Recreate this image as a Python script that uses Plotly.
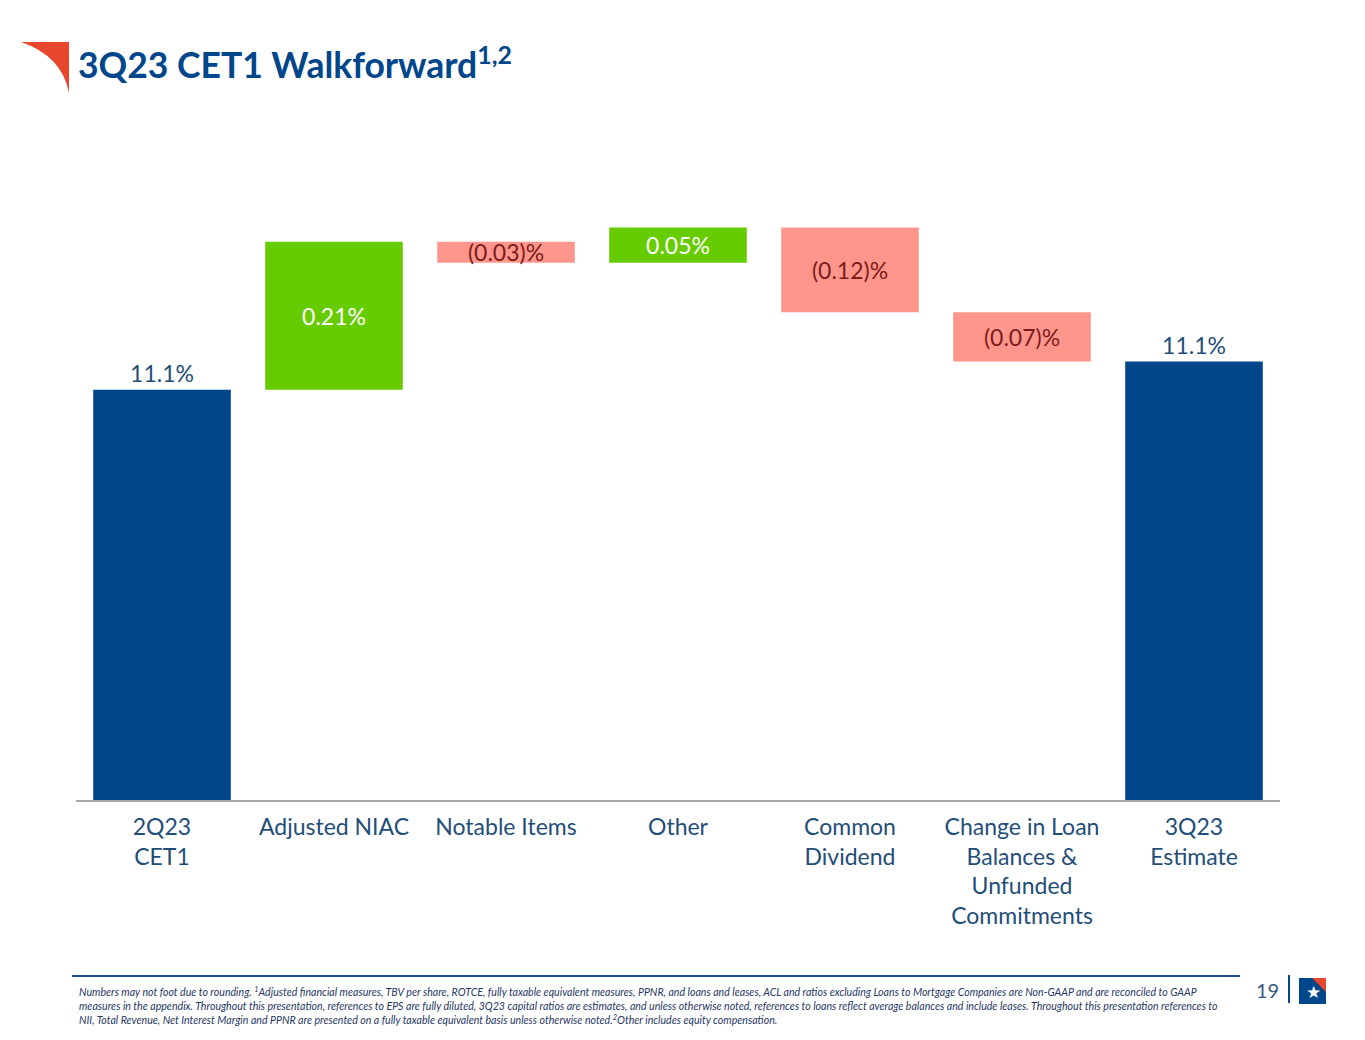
import plotly.graph_objects as go

# chart data
categories = ["2Q23<br>CET1", "Adjusted NIAC", "Notable Items", "Other", "Common<br>Dividend",
              "Change in Loan<br>Balances &<br>Unfunded<br>Commitments", "3Q23<br>Estimate"]
measures = ["absolute", "relative", "relative", "relative", "relative", "relative", "total"]
values = [11.06, 0.21, -0.03, 0.05, -0.12, -0.07, 0]
value_labels = ["11.1%", "0.21%", "(0.03)%", "0.05%", "(0.12)%", "(0.07)%", "11.1%"]
y_range = [10.478, 11.400]

BLUE = "#00468B"
GREEN = "#66CC00"
PINK = "#FF968C"
TXT = "#1F4E79"
DARK_RED = "#7B1C1C"
FONT = "Lato"

# page has an 8px body margin, so the figure is a bit smaller than the window
OFF = 8
W, H = 1349, 1024
L, R, T, B = 68, 77, 142, 232
pw, ph = W - L - R, H - T - B


def px(x):
    # x position on the slide -> paper coord
    return (x - OFF - L) / pw


def py(y):
    return (H - B - (y - OFF)) / ph


label_colors = [TXT if m != "relative" else ("white" if v > 0 else DARK_RED)
                for m, v in zip(measures, values)]
label_pos = ["outside" if m != "relative" else "inside" for m in measures]

fig = go.Figure()
fig.add_trace(go.Waterfall(
    x=categories,
    y=values,
    measure=measures,
    text=value_labels,
    textposition=label_pos,
    insidetextanchor="middle",
    textfont=dict(family=FONT, size=23, color=label_colors),
    increasing=dict(marker=dict(color=GREEN)),
    decreasing=dict(marker=dict(color=PINK)),
    totals=dict(marker=dict(color=BLUE)),
    connector=dict(visible=False),
    cliponaxis=True,
    hoverinfo="skip",
))

footnote = ("<i>Numbers may not foot due to rounding. <sup>1</sup>Adjusted financial measures, TBV per share, ROTCE, fully taxable equivalent measures, PPNR, and loans and leases, ACL and ratios excluding Loans to Mortgage Companies are Non-GAAP and are reconciled to GAAP<br>"
            "measures in the appendix. Throughout this presentation, references to EPS are fully diluted, 3Q23 capital ratios are estimates, and unless otherwise noted, references to loans reflect average balances and include leases. Throughout this presentation references to<br>"
            "NII, Total Revenue, Net Interest Margin and PPNR are presented on a fully taxable equivalent basis unless otherwise noted.<sup>2</sup>Other includes equity compensation.</i>")

shapes = [
    # red swoosh logo
    dict(type="path", xref="paper", yref="paper",
         path=f"M {px(21)},{py(42)} L {px(69)},{py(42)} L {px(69)},{py(93)} Q {px(62)},{py(56)} {px(21)},{py(42)} Z",
         fillcolor="#E8472E", line=dict(width=0)),
    # footer rule
    dict(type="line", xref="paper", yref="paper", x0=px(72), x1=px(1240), y0=py(976), y1=py(976),
         line=dict(color="#1F4E8C", width=2)),
    # page divider
    dict(type="line", xref="paper", yref="paper", x0=px(1289), x1=px(1289), y0=py(975), y1=py(1003),
         line=dict(color="#00468B", width=2)),
    # small logo
    dict(type="rect", xref="paper", yref="paper", x0=px(1299), x1=px(1326), y0=py(978), y1=py(1004),
         fillcolor=BLUE, line=dict(width=0)),
    dict(type="path", xref="paper", yref="paper",
         path=f"M {px(1312)},{py(978)} L {px(1326)},{py(978)} L {px(1326)},{py(992)} Z",
         fillcolor="#E8472E", line=dict(width=0)),
]

annotations = [
    dict(text=footnote, xref="paper", yref="paper", x=px(77), y=py(983), xanchor="left", yanchor="top",
         showarrow=False, align="left", font=dict(family=FONT, size=10.6, color="#1F3864")),
    dict(text="19", xref="paper", yref="paper", x=px(1281), y=py(990), xanchor="right", yanchor="middle",
         showarrow=False, font=dict(family=FONT, size=20, color="#3A5A80")),
    dict(text="★", xref="paper", yref="paper", x=px(1313), y=py(992), xanchor="center", yanchor="middle",
         showarrow=False, font=dict(family="DejaVu Sans", size=17, color="white")),
]

fig.update_layout(
    width=W, height=H,
    margin=dict(l=L, r=R, t=T, b=B),
    paper_bgcolor="white", plot_bgcolor="white",
    title=dict(text="<b>3Q23 CET1 Walkforward<sup>1,2</sup></b>", xref="container", yref="container",
               x=(78 - OFF) / W, y=1 - (66 - OFF) / H, xanchor="left", yanchor="middle",
               font=dict(family=FONT, size=35.5, color=BLUE)),
    xaxis=dict(showline=True, linecolor="#A6A6A6", linewidth=2, ticks="", showgrid=False,
               tickfont=dict(family=FONT, size=23, color=TXT), range=[-0.5, 6.5],
               ticklabelstandoff=5),
    yaxis=dict(visible=False, range=y_range, showgrid=False),
    bargap=0.2,
    showlegend=False,
    uniformtext=dict(mode="show", minsize=23),
    shapes=shapes,
    annotations=annotations,
)

fig.write_html("out.html")
